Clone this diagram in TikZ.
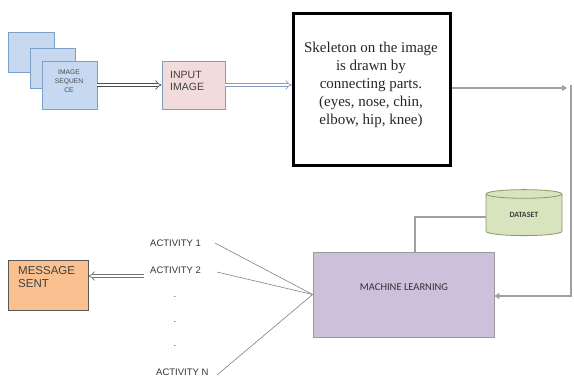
\documentclass[tikz,border=0pt]{standalone}
\usepackage{fontspec}
\setmainfont{Liberation Sans}
\newfontfamily\serifskel{Liberation Serif}
\newfontfamily\calib{Carlito}
\usetikzlibrary{arrows.meta,shapes.geometric,calc}
\definecolor{seqfill}{HTML}{C6D9F1}
\definecolor{seqdraw}{HTML}{7F9FCB}
\definecolor{inpfill}{HTML}{F2DCDB}
\definecolor{mlfill}{HTML}{CCC0DA}
\definecolor{msgfill}{HTML}{FAC08F}
\definecolor{dsfill}{HTML}{D7E4BD}
\definecolor{dsdraw}{HTML}{8A9A6A}
\definecolor{linegray}{HTML}{A0A0A0}
\tikzset{
  seqbox/.style={draw=seqdraw, fill=seqfill, line width=0.8pt, inner sep=0pt},
  dblarrow/.style={draw=#1, double=white, double distance=2.6pt, line width=0.7pt, -{Implies}},
  grayline/.style={draw=linegray, line width=2.4pt},
  actline/.style={draw=gray, line width=0.6pt},
  acttext/.style={font=\fontsize{9.5}{11}\selectfont, inner sep=0pt, text=black!80},
}
\begin{document}
\begin{tikzpicture}[x=1pt,y=-1pt]
\useasboundingbox (0,0) rectangle (574,378);
% image sequence
\node[seqbox, minimum width=46pt, minimum height=40pt] (seqC) at (31,52) {};
\node[seqbox, minimum width=45pt, minimum height=40pt] (seqB) at (52.5,68) {};
\node[seqbox, minimum width=55pt, minimum height=48pt] (seqA) at (69.5,85) {};
\node[align=center, font=\fontsize{6.7}{9}\selectfont, text=black!70] (seqT) at (69,81) {IMAGE\\SEQUEN\\CE};
% input image
\node[draw=seqdraw, fill=inpfill, line width=0.8pt, minimum width=63pt, minimum height=48pt] (inp) at (193.5,85) {};
\node[align=left, anchor=north west, inner sep=0pt, font=\fontsize{10.5}{12}\selectfont, text=black!75] (inpT) at (170,71) {INPUT\\IMAGE};
% skeleton box
\node[draw=black, line width=3.5pt, minimum width=157pt, minimum height=152pt] (skel) at (372,89.5) {};
\node[align=center, anchor=north, inner sep=0pt, font=\serifskel\fontsize{15}{18}\selectfont, text=black!85] (skelT) at (371,41.5) {Skeleton on the image\\is drawn by\\connecting parts.\\(eyes, nose, chin,\\elbow, hip, knee)};
% dataset
\node[cylinder, shape border rotate=90, aspect=0.3, draw=dsdraw, fill=dsfill, line width=0.8pt, minimum width=76pt, minimum height=46pt, inner sep=0pt, font=\calib\bfseries\fontsize{8}{9}\selectfont, text=black!75] (ds) at (524,215) {DATASET};
% machine learning
\node[draw=gray!80, fill=mlfill, line width=0.8pt, minimum width=181pt, minimum height=85pt] (ml) at (403.5,294.5) {};
\node[font=\calib\fontsize{10.5}{12}\selectfont, text=black!80] (mlT) at (404,287) {MACHINE LEARNING};
% message sent
\node[draw=black!65, fill=msgfill, line width=0.9pt, minimum width=80pt, minimum height=50pt] (msg) at (48,285) {};
\node[align=left, anchor=north west, inner sep=0pt, font=\fontsize{11.5}{13.5}\selectfont, text=black!75] (msgT) at (18,266) {MESSAGE\\SENT};
% activities
\node[acttext, anchor=west] (act1) at (150,243) {ACTIVITY 1};
\node[acttext, anchor=west] (act2) at (150,270) {ACTIVITY 2};
\node[acttext] (d1) at (175,297) {.};
\node[acttext] (d2) at (175,322) {.};
\node[acttext] (d3) at (175,346) {.};
\node[acttext, anchor=west] (actN) at (156,372) {ACTIVITY N};
% connectors
\coordinate (a1) at (215,243);
\coordinate (a2) at (217,272);
\coordinate (aN) at (217,375);
\draw[actline] (a1) -- (ml.west);
\draw[actline] (a2) -- (ml.west);
\draw[actline] (aN) -- (ml.west);
\coordinate (a2l) at (144,276);
\draw[dblarrow=black!55] (a2l) -- (msg.east |- a2l);
\draw[dblarrow=black!70] (seqA.east) -- (inp.west);
\draw[dblarrow=seqdraw] (inp.east) -- (skel.west |- inp.east);
% gray loop
\coordinate (r1) at (567,88);
\coordinate (r2) at (571,85);
\coordinate (r3) at (571,296);
\draw[grayline, -{Triangle[length=5pt,width=6pt]}] (skel.east |- r1) -- (r1);
\draw[grayline, -{Triangle[length=5pt,width=6pt]}] (r2) -- (r3) -- (ml.east |- r3);
% dataset link
\coordinate (k) at (415,217);
\draw[draw=linegray, line width=1.4pt] (ds.west |- k) -- (k) -- (k |- ml.north);
\end{tikzpicture}
\end{document}
